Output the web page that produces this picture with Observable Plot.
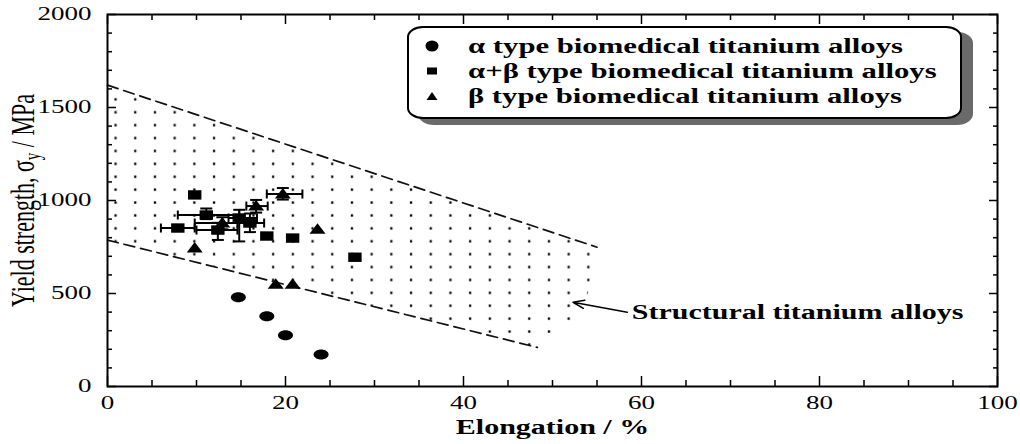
<!DOCTYPE html>
<html>
<head>
<meta charset="utf-8">
<script src="https://cdn.jsdelivr.net/npm/d3@7"></script>
<script src="https://cdn.jsdelivr.net/npm/@observablehq/plot@0.6"></script>
<style>
  body { margin: 0; background: #fff; }
  #wrap { position: relative; width: 1020px; height: 444px; overflow: hidden; }
  #legend {
    position: absolute; left: 407px; top: 26px; width: 551px; height: 89px;
    border: 2px solid #000; border-radius: 16px / 11px; background: #fff;
    box-shadow: 11px 6px 0 #6a6a6a;
    font-family: "Liberation Serif", serif; font-weight: bold; font-size: 20px; color: #000;
  }
  .row { position: absolute; left: 0; width: 100%; height: 25px; }
  .row svg { position: absolute; left: 13px; top: 2px; }
  .row span { position: absolute; left: 59px; top: 0; line-height: 25px; white-space: nowrap;
    transform: scaleX(1.535); transform-origin: left center; }
</style>
</head>
<body>
<div id="wrap"><div id="legend"></div></div>
<script>
// ---------- data ----------
const seriesNames = [
  "α type biomedical titanium alloys",
  "α+β type biomedical titanium alloys",
  "β type biomedical titanium alloys"
];
// α type (circles)
const alphaElong = [14.7, 17.9, 20.0, 24.0];
const alphaYS    = [480, 378, 276, 172];
// α+β type (squares)
const abElong = [9.8, 7.9, 11.1, 12.4, 14.8, 16.0, 17.9, 20.8, 27.8];
const abYS    = [1030, 852, 922, 841, 906, 879, 809, 798, 695];
// β type (triangles)
const betaElong = [9.8, 12.9, 16.7, 19.7, 23.6, 18.9, 20.8];
const betaYS    = [744, 879, 970, 1035, 846, 550, 550];
// error bars
const errElong   = [7.9, 11.1, 12.4, 14.8, 16.0, 12.9, 16.7, 19.7];
const errYS      = [852, 922, 841, 906, 879, 879, 970, 1035];
const errElongLo = [6.0, 7.9, 10.0, 13.6, 14.6, 9.8, 15.6, 17.9];
const errElongHi = [9.8, 14.8, 14.6, 16.8, 17.6, 16.2, 18.0, 21.9];
const errYSLo    = [838, 900, 788, 780, 830, 845, 935, 1005];
const errYSHi    = [866, 957, 880, 950, 930, 910, 1003, 1067];
// structural titanium alloys band
const upperElong = [0, 55];
const upperYS    = [1620, 749];
const lowerElong = [0, 48.3];
const lowerYS    = [787, 210];
const regionElong = [0, 55, 53.5, 48.3, 0];
const regionYS    = [1620, 749, 390, 210, 787];
// annotation
const annotLabel = ["Structural titanium alloys"];
const annotTextElong = [58.9], annotTextYS = [399];
const arrowFromElong = [58.4], arrowFromYS = [399];
const arrowToElong = [52.3], arrowToYS = [453];
// axes
const xTicks = [0, 20, 40, 60, 80, 100];
const yTicks = [0, 500, 1000, 1500, 2000];
const xLabel = "Elongation / %";
const yLabel = "Yield strength, σy / MPa";

// ---------- tables ----------
const zip = (xs, ys) => xs.map((x, i) => ({x, y: ys[i]}));
const alphaPts = zip(alphaElong, alphaYS);
const abPts = zip(abElong, abYS);
const betaPts = zip(betaElong, betaYS);
const errs = errElong.map((x, i) => ({x, y: errYS[i], xlo: errElongLo[i], xhi: errElongHi[i], ylo: errYSLo[i], yhi: errYSHi[i]}));
const upper = zip(upperElong, upperYS);
const lower = zip(lowerElong, lowerYS);
const region = zip(regionElong, regionYS);
const annot = annotLabel.map((t, i) => ({t, tx: annotTextElong[i], ty: annotTextYS[i],
  x1: arrowFromElong[i], y1: arrowFromYS[i], x2: arrowToElong[i], y2: arrowToYS[i]}));
const xMinor = d3.range(0, 101, 5).filter(v => v % 20 !== 0);
const yMinor = d3.range(0, 2001, 100).filter(v => v % 500 !== 0);

// ---------- symbols (stretched horizontally like the scan) ----------
const ellipseSym = {draw(c) { const rx = 7.5, ry = 5, k = 0.5523;
  c.moveTo(rx, 0);
  c.bezierCurveTo(rx, ry * k, rx * k, ry, 0, ry);
  c.bezierCurveTo(-rx * k, ry, -rx, ry * k, -rx, 0);
  c.bezierCurveTo(-rx, -ry * k, -rx * k, -ry, 0, -ry);
  c.bezierCurveTo(rx * k, -ry, rx, -ry * k, rx, 0);
  c.closePath(); }};
const rectSym = {draw(c) { c.moveTo(-6.7, -4.7); c.lineTo(6.7, -4.7); c.lineTo(6.7, 4.7); c.lineTo(-6.7, 4.7); c.closePath(); }};
const triSym = {draw(c) { c.moveTo(0, -6); c.lineTo(8, 4.5); c.lineTo(-8, 4.5); c.closePath(); }};
const vcap = {draw(c) { c.moveTo(0, -4.5); c.lineTo(0, 4.5); }};
const hcap = {draw(c) { c.moveTo(-6, 0); c.lineTo(6, 0); }};

const svg = Plot.plot({
  width: 1020, height: 444,
  marginLeft: 107, marginRight: 23, marginTop: 14, marginBottom: 58,
  style: {fontFamily: "Liberation Serif, serif", fontSize: "18px", color: "#000", background: "#fff"},
  x: {domain: [0, 100]},
  y: {domain: [0, 2000]},
  marks: [
    Plot.line(region, {x: "x", y: "y", curve: "linear-closed", fill: "url(#dots)", stroke: "none"}),
    Plot.line(upper, {x: "x", y: "y", stroke: "#111", strokeWidth: 1.7, strokeDasharray: "11,6"}),
    Plot.line(lower, {x: "x", y: "y", stroke: "#111", strokeWidth: 1.7, strokeDasharray: "11,6"}),
    Plot.link(errs, {x1: "xlo", x2: "xhi", y1: "y", y2: "y", stroke: "#000", strokeWidth: 2}),
    Plot.link(errs, {x1: "x", x2: "x", y1: "ylo", y2: "yhi", stroke: "#000", strokeWidth: 2}),
    Plot.dot(errs, {x: "xlo", y: "y", symbol: vcap, r: 1, stroke: "#000", fill: "none", strokeWidth: 2}),
    Plot.dot(errs, {x: "xhi", y: "y", symbol: vcap, r: 1, stroke: "#000", fill: "none", strokeWidth: 2}),
    Plot.dot(errs, {x: "x", y: "ylo", symbol: hcap, r: 1, stroke: "#000", fill: "none", strokeWidth: 2}),
    Plot.dot(errs, {x: "x", y: "yhi", symbol: hcap, r: 1, stroke: "#000", fill: "none", strokeWidth: 2}),
    Plot.dot(alphaPts, {x: "x", y: "y", symbol: ellipseSym, r: 1, fill: "#000", stroke: "none"}),
    Plot.dot(abPts, {x: "x", y: "y", symbol: rectSym, r: 1, fill: "#000", stroke: "none"}),
    Plot.dot(betaPts, {x: "x", y: "y", symbol: triSym, r: 1, fill: "#000", stroke: "none"}),
    Plot.arrow(annot, {x1: "x1", y1: "y1", x2: "x2", y2: "y2", stroke: "#000", strokeWidth: 1.5, headLength: 12, headAngle: 40}),
    Plot.text(annot, {x: "tx", y: "ty", text: "t", textAnchor: "start", fontSize: 20, fontWeight: "bold", fill: "#000"}),
    // axes: bottom / left with labels
    Plot.axisX({anchor: "bottom", ticks: xTicks, tickSize: -10, tickPadding: 20, tickFormat: d3.format("d"), label: null, strokeWidth: 1.5}),
    Plot.axisX({anchor: "bottom", ticks: xMinor, tickSize: -6, fill: "none", label: null, strokeWidth: 1.5}),
    Plot.axisY({anchor: "left", ticks: yTicks, tickSize: -9, tickPadding: 25, tickFormat: d3.format("d"), label: null, strokeWidth: 1.5}),
    Plot.axisY({anchor: "left", ticks: yMinor, tickSize: -5, fill: "none", label: null, strokeWidth: 1.5}),
    // mirrored ticks top / right
    Plot.axisX({anchor: "top", ticks: xTicks, tickSize: -9, fill: "none", label: null, strokeWidth: 1.5}),
    Plot.axisX({anchor: "top", ticks: xMinor, tickSize: -5, fill: "none", label: null, strokeWidth: 1.5}),
    Plot.axisY({anchor: "right", ticks: yTicks, tickSize: -9, fill: "none", label: null, strokeWidth: 1.5}),
    Plot.axisY({anchor: "right", ticks: yMinor, tickSize: -5, fill: "none", label: null, strokeWidth: 1.5}),
    Plot.frame({stroke: "#000", strokeWidth: 2}),
    Plot.text([xLabel], {frameAnchor: "bottom", dy: 47, lineAnchor: "bottom", text: d => d, fontSize: 20, fontWeight: "bold", fill: "#000"}),
    Plot.text([yLabel], {frameAnchor: "left", dx: -74, rotate: -90, textAnchor: "middle", lineAnchor: "bottom", text: d => d, fontSize: 22, fill: "#000"})
  ]
});

const wrap = document.getElementById("wrap");
wrap.insertBefore(svg, wrap.firstChild);

// dot texture for the structural-alloy band
const ns = "http://www.w3.org/2000/svg";
const defs = document.createElementNS(ns, "defs");
defs.innerHTML = '<pattern id="dots" patternUnits="userSpaceOnUse" x="105.15" y="105.25" width="19.7" height="12.9">' +
  '<rect x="8.75" y="5.35" width="2.3" height="2.3" fill="#000"/></pattern>';
svg.insertBefore(defs, svg.firstChild);

// y label: subscript y, stretched glyphs
const texts = Array.from(svg.querySelectorAll("text"));
const yl = texts.find(t => t.textContent === yLabel);
if (yl) {
  const [pre, post] = yLabel.split("σy");
  yl.textContent = "";
  const t1 = document.createElementNS(ns, "tspan"); t1.textContent = pre + "σ";
  const t2 = document.createElementNS(ns, "tspan"); t2.textContent = "y"; t2.setAttribute("font-size", "15"); t2.setAttribute("dy", "4");
  const t3 = document.createElementNS(ns, "tspan"); t3.textContent = post; t3.setAttribute("dy", "-4");
  yl.append(t1, t2, t3);
  yl.setAttribute("text-anchor", "middle");
  yl.setAttribute("transform", (yl.getAttribute("transform") || "") + " scale(1,1.5)");
}
// horizontal stretch of the other texts (the scan is stretched horizontally)
for (const t of texts) {
  if (t === yl || !t.textContent) continue;
  const w = t.getComputedTextLength();
  if (w > 0) { t.setAttribute("textLength", (w * 1.5).toFixed(1)); t.setAttribute("lengthAdjust", "spacingAndGlyphs"); }
}

// legend
const legend = document.getElementById("legend");
const legendSymbols = [
  '<svg width="20" height="20"><ellipse cx="10" cy="10" rx="6.5" ry="5.5" fill="#000"/></svg>',
  '<svg width="20" height="20"><rect x="5" y="6.5" width="10" height="7" fill="#000"/></svg>',
  '<svg width="20" height="20"><path d="M10,6 L15.5,14 L4.5,14 Z" fill="#000"/></svg>'
];
seriesNames.forEach((name, i) => {
  const row = document.createElement("div");
  row.className = "row";
  row.style.top = (5.5 + 25 * i) + "px";
  row.innerHTML = legendSymbols[i] + "<span></span>";
  row.querySelector("span").textContent = name;
  legend.appendChild(row);
});
</script>
</body>
</html>
